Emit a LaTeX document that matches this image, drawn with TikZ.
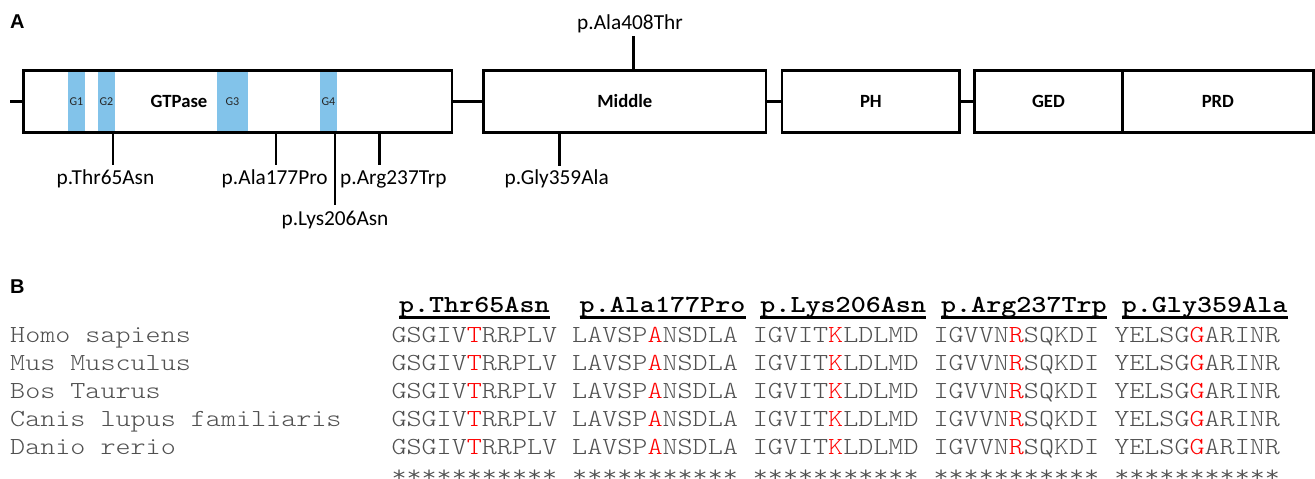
\documentclass[tikz,border=0pt]{standalone}
\usepackage{fontspec}
\setmainfont{Carlito}
\newfontfamily\panelfont{Liberation Sans}
\newfontfamily\seqfont{lmmonolt10-regular.otf}[FakeStretch=1.171]
\newfontfamily\hdrfont{lmmonolt10-bold.otf}[FakeStretch=1.171]
\definecolor{gblue}{RGB}{130,195,234}
\definecolor{seqgray}{RGB}{80,80,80}
\newcommand\mut[1]{\textcolor{red}{#1}}
\begin{document}
\begin{tikzpicture}[x=1pt,y=-1pt,
  box/.style={draw=black, line width=2.7pt, inner sep=0pt, minimum height=62.2pt, font=\fontsize{18.67}{22}\selectfont\bfseries},
  gbar/.style={fill=gblue, inner sep=0pt, minimum height=61pt, text=black!85, font=\fontsize{12}{14}\selectfont},
  stub/.style={line width=2.7pt},
  mlabel/.style={inner sep=0pt, anchor=base, font=\fontsize{21.33}{25}\selectfont},
  panel/.style={inner sep=0pt, anchor=base west, font=\panelfont\bfseries\fontsize{20}{24}\selectfont},
  species/.style={inner sep=0pt, anchor=base west, text=seqgray, font=\seqfont\fontsize{24.5}{30}\selectfont},
  hdr/.style={inner sep=0pt, anchor=base west, font=\hdrfont\fontsize{24.5}{30}\selectfont},
  uline/.style={line width=3.2pt}
]
\useasboundingbox (0,0) rectangle (1315,479);

% ---------- Panel A ----------
\node[panel] (labA) at (10,28.3) {A};

\node[gbar, minimum width=17pt] (g1) at (76.5,101.4) {G1};
\node[gbar, minimum width=17pt] (g2) at (106.5,101.4) {G2};
\node[gbar, minimum width=31pt] (g3) at (232.5,101.4) {G3};
\node[gbar, minimum width=17pt] (g4) at (328.5,101.4) {G4};

\node[box, minimum width=428.5pt] (gtp) at (237.75,101.4) {};
\node[inner sep=0pt, font=\fontsize{18.67}{22}\selectfont\bfseries] (gtptxt) at (179,101.4) {GTPase};
\node[box, minimum width=282.3pt] (mid) at (624.85,101.4) {Middle};
\node[box, minimum width=177.7pt] (ph) at (870.85,101.4) {PH};
\node[box, minimum width=147.5pt] (ged) at (1048.45,101.4) {GED};
\node[box, minimum width=191.3pt] (prd) at (1217.85,101.4) {PRD};

\coordinate (lstart) at (10,101.4);
\draw[stub] (lstart) -- (gtp.west);
\draw[stub] (gtp.east) -- (mid.west);
\draw[stub] (mid.east) -- (ph.west);
\draw[stub] (ph.east) -- (ged.west);

% mutation stubs
\coordinate (s1) at (113,165);
\coordinate (s2) at (276,165);
\coordinate (s3) at (335,205);
\coordinate (s4) at (379.3,165);
\coordinate (s5) at (559.3,166);
\coordinate (s6) at (633.3,35.7);
\draw[stub] (s1 |- gtp.south) -- (s1);
\draw[stub] (s2 |- gtp.south) -- (s2);
\draw[stub] (s3 |- gtp.south) -- (s3);
\draw[stub] (s4 |- gtp.south) -- (s4);
\draw[stub] (s5 |- mid.south) -- (s5);
\draw[stub] (s6 |- mid.north) -- (s6);

\node[mlabel] (m1) at (105.5,184) {p.Thr65Asn};
\node[mlabel] (m2) at (274.7,184) {p.Ala177Pro};
\node[mlabel] (m3) at (335,225) {p.Lys206Asn};
\node[mlabel] (m4) at (393.3,184) {p.Arg237Trp};
\node[mlabel] (m5) at (556.7,184) {p.Gly359Ala};
\node[mlabel] (m6) at (630,29) {p.Ala408Thr};

% ---------- Panel B ----------
\node[panel] (labB) at (10,293.5) {B};

\foreach \k/\t in {0/p.Thr65Asn,1/p.Ala177Pro,2/p.Lys206Asn,3/p.Arg237Trp,4/p.Gly359Ala}{
  \node[hdr] (h\k) at ({398.8+180.7*\k},312.5) {\t};
  \draw[uline] ([yshift=-5.2pt]h\k.base west) -- ([yshift=-5.2pt]h\k.base east);
}

\foreach \n/\yy/\s in {1/342.7/Homo sapiens,2/370.7/Mus Musculus,3/398.5/Bos Taurus,4/426.5/Canis lupus familiaris,5/454.3/Danio rerio}{
  \node[species] (sp\n) at (10,\yy) {\s};
  \foreach \k/\a/\b/\c in {0/GSGIV/T/RRPLV,1/LAVSP/A/NSDLA,2/IGVIT/K/LDLMD,3/IGVVN/R/SQKDI,4/YELSG/G/ARINR}{
    \node[species] (q\n\k) at ({391.3+180.7*\k},\yy) {\a\mut{\b}\c};
  }
}
\foreach \k in {0,...,4}{
  \node[species] (st\k) at ({391.3+180.7*\k},476) {\raisebox{-6pt}[0pt][0pt]{***********}};
}
\end{tikzpicture}
\end{document}
